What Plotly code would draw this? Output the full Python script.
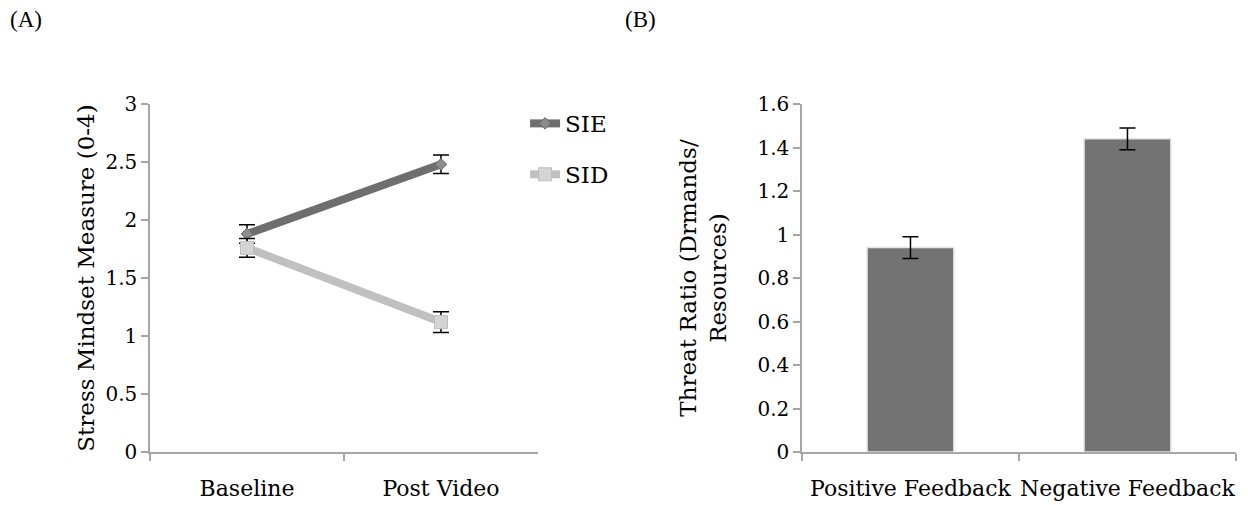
import plotly.graph_objects as go

# panel A: stress mindset by condition
phases = ["Baseline", "Post Video"]
sie_vals = [1.88, 2.48]
sie_err = [0.08, 0.08]
sid_vals = [1.76, 1.12]
sid_err = [0.08, 0.09]

# panel B: threat ratio by feedback
feedback = ["Positive Feedback", "Negative Feedback"]
threat_vals = [0.94, 1.44]
threat_err = [0.05, 0.05]

TEXT_FONT = dict(family="DejaVu Serif", size=23, color="black")
CAT_FONT = dict(family="DejaVu Serif", size=22, color="black")
NUM_FONT = dict(family="DejaVu Serif", size=20, color="black")
PANEL_FONT = dict(family="Liberation Serif", size=23, color="black")

fig = go.Figure()

fig.add_trace(go.Scatter(
    x=phases, y=sie_vals, name="SIE", mode="lines+markers", legendgroup="sie",
    line=dict(color="#6e6e6e", width=8),
    marker=dict(symbol="diamond", size=9, color="#8c8c8c", line=dict(color="#6a6a6a", width=1)),
    error_y=dict(type="data", array=sie_err, color="black", thickness=1.5, width=8),
    xaxis="x", yaxis="y",
))
fig.add_trace(go.Scatter(
    x=phases, y=sid_vals, name="SID", mode="lines+markers", legendgroup="sid",
    line=dict(color="#c0c0c0", width=8),
    marker=dict(symbol="square", size=13, color="#d4d4d4", line=dict(color="#bdbdbd", width=1)),
    error_y=dict(type="data", array=sid_err, color="black", thickness=1.5, width=8),
    xaxis="x", yaxis="y",
))

fig.add_trace(go.Bar(
    x=feedback, y=threat_vals, showlegend=False,
    marker=dict(color="#737373", line=dict(color="#e4e4e4", width=1.5)),
    error_y=dict(type="data", array=threat_err, color="black", thickness=1.5, width=8),
    xaxis="x2", yaxis="y2",
))

axis_common = dict(
    showgrid=False, zeroline=False, showline=True, linecolor="#a6a6a6", linewidth=1.5,
    ticks="outside", tickcolor="#a6a6a6", ticklen=7, tickwidth=1.5, automargin=False,
)

# page has an 8px body margin, so the figure is sized to fit what remains
fig.update_layout(
    width=1240, height=497,
    margin=dict(l=0, r=0, t=0, b=0, autoexpand=False),
    paper_bgcolor="white", plot_bgcolor="white",
    font=TEXT_FONT,
    bargap=0.6,
    xaxis=dict(domain=[0.1145, 0.4274], anchor="y", type="category", range=[-0.5, 1.5],
               tickson="boundaries", tickangle=0, tickfont=CAT_FONT, ticklabelstandoff=16,
               **axis_common),
    yaxis=dict(domain=[0.1066, 0.8068], anchor="x", range=[0, 3], dtick=0.5,
               tickfont=NUM_FONT,
               title=dict(text="Stress Mindset Measure (0-4)", standoff=4, font=TEXT_FONT),
               **axis_common),
    xaxis2=dict(domain=[0.6403, 0.9903], anchor="y2", type="category", range=[-0.5, 1.5],
                tickson="boundaries", tickangle=0, tickfont=CAT_FONT, ticklabelstandoff=16,
                **axis_common),
    yaxis2=dict(domain=[0.1066, 0.8068], anchor="x2", range=[0, 1.6], dtick=0.2,
                tickfont=NUM_FONT,
                title=dict(text="Threat Ratio (Drmands/<br>Resources)", standoff=24, font=TEXT_FONT),
                **axis_common),
    legend=dict(x=0.417, y=0.811, xanchor="left", yanchor="top",
                bgcolor="rgba(0,0,0,0)", tracegroupgap=18, font=TEXT_FONT),
    annotations=[
        dict(text="(A)", x=0.0, y=1.0, xref="paper", yref="paper", xanchor="left", yanchor="top",
             yshift=3, showarrow=False, font=PANEL_FONT),
        dict(text="(B)", x=0.496, y=1.0, xref="paper", yref="paper", xanchor="left", yanchor="top",
             yshift=3, showarrow=False, font=PANEL_FONT),
    ],
)

fig.write_html("out.html")
